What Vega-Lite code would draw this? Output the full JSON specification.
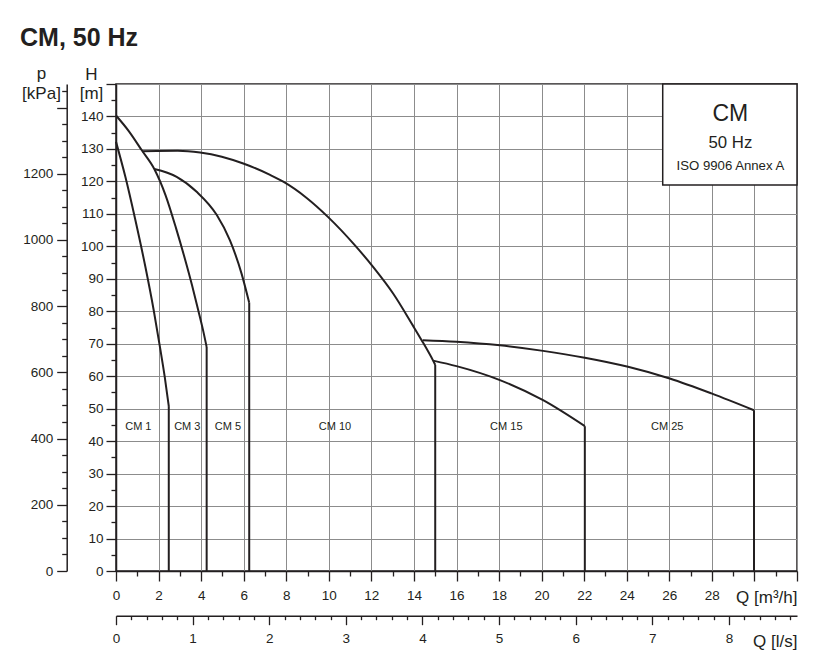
{
  "$schema": "https://vega.github.io/schema/vega-lite/v6.json",
  "autosize": {"type": "none"},
  "width": 681,
  "height": 487,
  "padding": {"left": 116, "top": 84, "right": 39, "bottom": 100},
  "background": "white",
  "title": {"text": "CM, 50 Hz", "anchor": "start", "frame": "group", "fontSize": 25, "fontWeight": "bold", "font": "Liberation Sans", "color": "#231f20", "dx": -96, "dy": 17, "baseline": "alphabetic", "offset": 10},
  "datasets": {
    "curves": [
      {"series": "CM 1", "part": "curve", "i": 1, "Q": 0, "H": 132.2},
      {"series": "CM 1", "part": "curve", "i": 2, "Q": 0.44, "H": 121.4},
      {"series": "CM 1", "part": "curve", "i": 3, "Q": 0.91, "H": 108.1},
      {"series": "CM 1", "part": "curve", "i": 4, "Q": 1.38, "H": 93.7},
      {"series": "CM 1", "part": "curve", "i": 5, "Q": 1.77, "H": 80.4},
      {"series": "CM 1", "part": "curve", "i": 6, "Q": 2.08, "H": 68.4},
      {"series": "CM 1", "part": "curve", "i": 7, "Q": 2.29, "H": 59.8},
      {"series": "CM 1", "part": "curve", "i": 8, "Q": 2.48, "H": 50.8},
      {"series": "CM 1", "part": "drop", "i": 1, "Q": 2.48, "H": 50.8},
      {"series": "CM 1", "part": "drop", "i": 2, "Q": 2.48, "H": 0},
      {"series": "CM 3", "part": "curve", "i": 1, "Q": 0, "H": 140.3},
      {"series": "CM 3", "part": "curve", "i": 2, "Q": 0.60, "H": 135.5},
      {"series": "CM 3", "part": "curve", "i": 3, "Q": 1.22, "H": 129.5},
      {"series": "CM 3", "part": "curve", "i": 4, "Q": 1.80, "H": 123.8},
      {"series": "CM 3", "part": "curve", "i": 5, "Q": 2.33, "H": 115.7},
      {"series": "CM 3", "part": "curve", "i": 6, "Q": 2.82, "H": 105.6},
      {"series": "CM 3", "part": "curve", "i": 7, "Q": 3.24, "H": 96.1},
      {"series": "CM 3", "part": "curve", "i": 8, "Q": 3.57, "H": 88.1},
      {"series": "CM 3", "part": "curve", "i": 9, "Q": 3.85, "H": 80.7},
      {"series": "CM 3", "part": "curve", "i": 10, "Q": 4.09, "H": 74.2},
      {"series": "CM 3", "part": "curve", "i": 11, "Q": 4.26, "H": 69.0},
      {"series": "CM 3", "part": "drop", "i": 1, "Q": 4.26, "H": 69.0},
      {"series": "CM 3", "part": "drop", "i": 2, "Q": 4.26, "H": 0},
      {"series": "CM 5", "part": "curve", "i": 1, "Q": 1.80, "H": 123.8},
      {"series": "CM 5", "part": "curve", "i": 2, "Q": 2.85, "H": 121.4},
      {"series": "CM 5", "part": "curve", "i": 3, "Q": 3.79, "H": 116.8},
      {"series": "CM 5", "part": "curve", "i": 4, "Q": 4.73, "H": 109.7},
      {"series": "CM 5", "part": "curve", "i": 5, "Q": 5.35, "H": 101.9},
      {"series": "CM 5", "part": "curve", "i": 6, "Q": 5.9, "H": 91.6},
      {"series": "CM 5", "part": "curve", "i": 7, "Q": 6.26, "H": 82.6},
      {"series": "CM 5", "part": "drop", "i": 1, "Q": 6.26, "H": 82.6},
      {"series": "CM 5", "part": "drop", "i": 2, "Q": 6.26, "H": 0},
      {"series": "CM 10", "part": "curve", "i": 1, "Q": 1.22, "H": 129.3},
      {"series": "CM 10", "part": "curve", "i": 2, "Q": 1.91, "H": 129.4},
      {"series": "CM 10", "part": "curve", "i": 3, "Q": 2.9, "H": 129.45},
      {"series": "CM 10", "part": "curve", "i": 4, "Q": 3.95, "H": 128.9},
      {"series": "CM 10", "part": "curve", "i": 5, "Q": 4.97, "H": 127.6},
      {"series": "CM 10", "part": "curve", "i": 6, "Q": 5.98, "H": 125.5},
      {"series": "CM 10", "part": "curve", "i": 7, "Q": 7.24, "H": 122.0},
      {"series": "CM 10", "part": "curve", "i": 8, "Q": 7.86, "H": 119.9},
      {"series": "CM 10", "part": "curve", "i": 9, "Q": 8.96, "H": 114.9},
      {"series": "CM 10", "part": "curve", "i": 10, "Q": 9.97, "H": 109.0},
      {"series": "CM 10", "part": "curve", "i": 11, "Q": 11.23, "H": 100.3},
      {"series": "CM 10", "part": "curve", "i": 12, "Q": 12.09, "H": 93.6},
      {"series": "CM 10", "part": "curve", "i": 13, "Q": 13.03, "H": 85.4},
      {"series": "CM 10", "part": "curve", "i": 14, "Q": 13.96, "H": 75.5},
      {"series": "CM 10", "part": "curve", "i": 15, "Q": 14.36, "H": 71.1},
      {"series": "CM 10", "part": "curve", "i": 16, "Q": 14.9, "H": 64.8},
      {"series": "CM 10", "part": "curve", "i": 17, "Q": 15.0, "H": 63.5},
      {"series": "CM 10", "part": "drop", "i": 1, "Q": 15.0, "H": 63.5},
      {"series": "CM 10", "part": "drop", "i": 2, "Q": 15.0, "H": 0},
      {"series": "CM 15", "part": "curve", "i": 1, "Q": 14.9, "H": 64.8},
      {"series": "CM 15", "part": "curve", "i": 2, "Q": 16.0, "H": 63.1},
      {"series": "CM 15", "part": "curve", "i": 3, "Q": 18.04, "H": 58.8},
      {"series": "CM 15", "part": "curve", "i": 4, "Q": 20.07, "H": 52.6},
      {"series": "CM 15", "part": "curve", "i": 5, "Q": 22.03, "H": 44.6},
      {"series": "CM 15", "part": "drop", "i": 1, "Q": 22.03, "H": 44.6},
      {"series": "CM 15", "part": "drop", "i": 2, "Q": 22.03, "H": 0},
      {"series": "CM 25", "part": "curve", "i": 1, "Q": 14.41, "H": 71.1},
      {"series": "CM 25", "part": "curve", "i": 2, "Q": 16.0, "H": 70.6},
      {"series": "CM 25", "part": "curve", "i": 3, "Q": 18.04, "H": 69.5},
      {"series": "CM 25", "part": "curve", "i": 4, "Q": 20.07, "H": 67.8},
      {"series": "CM 25", "part": "curve", "i": 5, "Q": 22.03, "H": 65.7},
      {"series": "CM 25", "part": "curve", "i": 6, "Q": 24.06, "H": 62.9},
      {"series": "CM 25", "part": "curve", "i": 7, "Q": 26.02, "H": 59.3},
      {"series": "CM 25", "part": "curve", "i": 8, "Q": 27.98, "H": 54.7},
      {"series": "CM 25", "part": "curve", "i": 9, "Q": 29.98, "H": 49.5},
      {"series": "CM 25", "part": "drop", "i": 1, "Q": 29.98, "H": 49.5},
      {"series": "CM 25", "part": "drop", "i": 2, "Q": 29.98, "H": 0}
    ],
    "labels": [
      {"series": "CM 1", "Q": 1.05, "H": 44.4},
      {"series": "CM 3", "Q": 3.35, "H": 44.4},
      {"series": "CM 5", "Q": 5.26, "H": 44.4},
      {"series": "CM 10", "Q": 10.29, "H": 44.4},
      {"series": "CM 15", "Q": 18.34, "H": 44.2},
      {"series": "CM 25", "Q": 25.9, "H": 44.4}
    ],
    "box": [
      {"Q": 25.69, "Q2": 32, "H": 118.9, "H2": 150}
    ],
    "boxtext": [
      {"line": "model", "text": "CM", "Q": 28.87, "H": 138.7},
      {"line": "freq", "text": "50 Hz", "Q": 28.87, "H": 130.2},
      {"line": "std", "text": "ISO 9906 Annex A", "Q": 28.87, "H": 123.5}
    ]
  },
  "layer": [
    {
      "encoding": {
        "x": {"field": "Q", "type": "quantitative", "scale": {"domain": [0, 32], "nice": false, "zero": false},
          "axis": {"orient": "bottom", "values": [0, 2, 4, 6, 8, 10, 12, 14, 16, 18, 20, 22, 24, 26, 28, 30, 32], "tickSize": 10, "labelPadding": 7,
            "labelExpr": "datum.value >= 30 ? '' : datum.label", "grid": true,
            "title": "Q [m³/h]", "titleX": 681, "titleY": 31, "titleAlign": "right", "titleBaseline": "alphabetic", "titleAngle": 0}},
        "y": {"field": "H", "type": "quantitative", "scale": {"domain": [0, 150], "nice": false, "zero": false},
          "axis": {"orient": "left", "values": [0, 10, 20, 30, 40, 50, 60, 70, 80, 90, 100, 110, 120, 130, 140, 150], "tickSize": 10, "labelPadding": 3,
            "labelExpr": "datum.value >= 150 ? '' : datum.label", "labelBaseline": "middle", "grid": true,
            "title": ["H", "[m]"], "titleX": -25, "titleY": -4.7, "titleAlign": "center", "titleBaseline": "alphabetic", "titleAngle": 0, "titleLineHeight": 19}}
      },
      "layer": [
        {
          "data": {"name": "curves"},
          "transform": [{"filter": "datum.part == 'curve'"}],
          "mark": {"type": "line", "color": "#231f20", "strokeWidth": 2, "interpolate": "monotone"},
          "encoding": {"detail": {"field": "series", "type": "nominal"}, "order": {"field": "i", "type": "quantitative"}}
        },
        {
          "data": {"name": "curves"},
          "transform": [{"filter": "datum.part == 'drop'"}],
          "mark": {"type": "line", "color": "#231f20", "strokeWidth": 2},
          "encoding": {"detail": {"field": "series", "type": "nominal"}, "order": {"field": "i", "type": "quantitative"}}
        },
        {
          "data": {"name": "labels"},
          "mark": {"type": "text", "font": "Liberation Sans", "fontSize": 11, "color": "#231f20", "align": "center", "baseline": "middle"},
          "encoding": {"text": {"field": "series", "type": "nominal"}}
        },
        {
          "data": {"name": "box"},
          "mark": {"type": "rect", "fill": "white", "stroke": "#231f20", "strokeWidth": 1.5},
          "encoding": {"x2": {"field": "Q2"}, "y2": {"field": "H2"}}
        },
        {
          "data": {"name": "boxtext"},
          "transform": [{"filter": "datum.line == 'model'"}],
          "mark": {"type": "text", "font": "Liberation Sans", "fontSize": 23, "color": "#231f20", "align": "center", "baseline": "alphabetic"},
          "encoding": {"text": {"field": "text", "type": "nominal"}}
        },
        {
          "data": {"name": "boxtext"},
          "transform": [{"filter": "datum.line == 'freq'"}],
          "mark": {"type": "text", "font": "Liberation Sans", "fontSize": 16.8, "color": "#231f20", "align": "center", "baseline": "alphabetic"},
          "encoding": {"text": {"field": "text", "type": "nominal"}}
        },
        {
          "data": {"name": "boxtext"},
          "transform": [{"filter": "datum.line == 'std'"}],
          "mark": {"type": "text", "font": "Liberation Sans", "fontSize": 13.2, "color": "#231f20", "align": "center", "baseline": "alphabetic"},
          "encoding": {"text": {"field": "text", "type": "nominal"}}
        }
      ]
    },
    {
      "data": {"name": "labels"},
      "mark": {"type": "rule", "opacity": 0},
      "encoding": {
        "x": {"field": "Q", "type": "quantitative", "scale": {"domain": [0, 32], "nice": false, "zero": false},
          "axis": {"orient": "bottom", "values": [1, 3, 5, 7, 9, 11, 13, 15, 17, 19, 21, 23, 25, 27, 29, 31], "tickSize": 5, "labels": false, "domain": false, "grid": false, "title": null}}
      }
    },
    {
      "data": {"name": "labels"},
      "mark": {"type": "rule", "opacity": 0},
      "encoding": {
        "y": {"field": "H", "type": "quantitative", "scale": {"domain": [0, 150], "nice": false, "zero": false},
          "axis": {"orient": "left", "values": [5, 15, 25, 35, 45, 55, 65, 75, 85, 95, 105, 115, 125, 135, 145], "tickSize": 5, "labels": false, "domain": false, "grid": false, "title": null}}
      }
    },
    {
      "data": {"name": "labels"},
      "mark": {"type": "rule", "opacity": 0},
      "encoding": {
        "x": {"field": "Q", "type": "quantitative", "scale": {"domain": [0, 8.8889], "nice": false, "zero": false},
          "axis": {"orient": "bottom", "offset": 44.7, "values": [0, 1, 2, 3, 4, 5, 6, 7, 8], "tickSize": 9, "labelPadding": 7, "grid": false,
            "title": "Q [l/s]", "titleX": 681, "titleY": 31, "titleAlign": "right", "titleBaseline": "alphabetic", "titleAngle": 0}}
      }
    },
    {
      "data": {"name": "labels"},
      "mark": {"type": "rule", "opacity": 0},
      "encoding": {
        "x": {"field": "Q", "type": "quantitative", "scale": {"domain": [0, 8.8889], "nice": false, "zero": false},
          "axis": {"orient": "bottom", "offset": 44.7, "values": [0.2, 0.4, 0.6, 0.8, 1.2, 1.4, 1.6, 1.8, 2.2, 2.4, 2.6, 2.8, 3.2, 3.4, 3.6, 3.8, 4.2, 4.4, 4.6, 4.8, 5.2, 5.4, 5.6, 5.8, 6.2, 6.4, 6.6, 6.8, 7.2, 7.4, 7.6, 7.8, 8.2, 8.4, 8.6, 8.8], "tickSize": 4, "labels": false, "domain": false, "grid": false, "title": null}}
      }
    },
    {
      "data": {"name": "labels"},
      "mark": {"type": "rule", "opacity": 0},
      "encoding": {
        "y": {"field": "H", "type": "quantitative", "scale": {"domain": [0, 1471], "nice": false, "zero": false},
          "axis": {"orient": "left", "offset": 49.3, "values": [0, 200, 400, 600, 800, 1000, 1200, 1400], "tickSize": 10, "labelPadding": 4, "format": "d",
            "labelExpr": "datum.value >= 1400 ? '' : datum.label", "labelBaseline": "middle", "grid": false,
            "title": ["p", "[kPa]"], "titleX": -25.7, "titleY": -6, "titleAlign": "center", "titleBaseline": "alphabetic", "titleAngle": 0, "titleLineHeight": 20}}
      }
    },
    {
      "data": {"name": "labels"},
      "mark": {"type": "rule", "opacity": 0},
      "encoding": {
        "y": {"field": "H", "type": "quantitative", "scale": {"domain": [0, 1471], "nice": false, "zero": false},
          "axis": {"orient": "left", "offset": 49.3, "values": [50, 100, 150, 250, 300, 350, 450, 500, 550, 650, 700, 750, 850, 900, 950, 1050, 1100, 1150, 1250, 1300, 1350, 1450], "tickSize": 5, "labels": false, "domain": false, "grid": false, "title": null}}
      }
    }
  ],
  "resolve": {"scale": {"x": "independent", "y": "independent"}, "axis": {"x": "independent", "y": "independent"}},
  "config": {
    "font": "Liberation Sans",
    "view": {"stroke": "#231f20", "strokeWidth": 1.5},
    "axis": {"labelFont": "Liberation Sans", "titleFont": "Liberation Sans", "labelColor": "#231f20", "titleColor": "#231f20",
      "tickColor": "#231f20", "domainColor": "#231f20", "labelFontSize": 13.5, "titleFontSize": 17, "titleFontWeight": "normal",
      "tickWidth": 1.3, "domainWidth": 1.5, "labelFlush": false, "labelOverlap": false, "labelBound": false,
      "gridColor": "#8c8c8c", "gridWidth": 1, "gridOpacity": 1, "titlePadding": 0}
  }
}
